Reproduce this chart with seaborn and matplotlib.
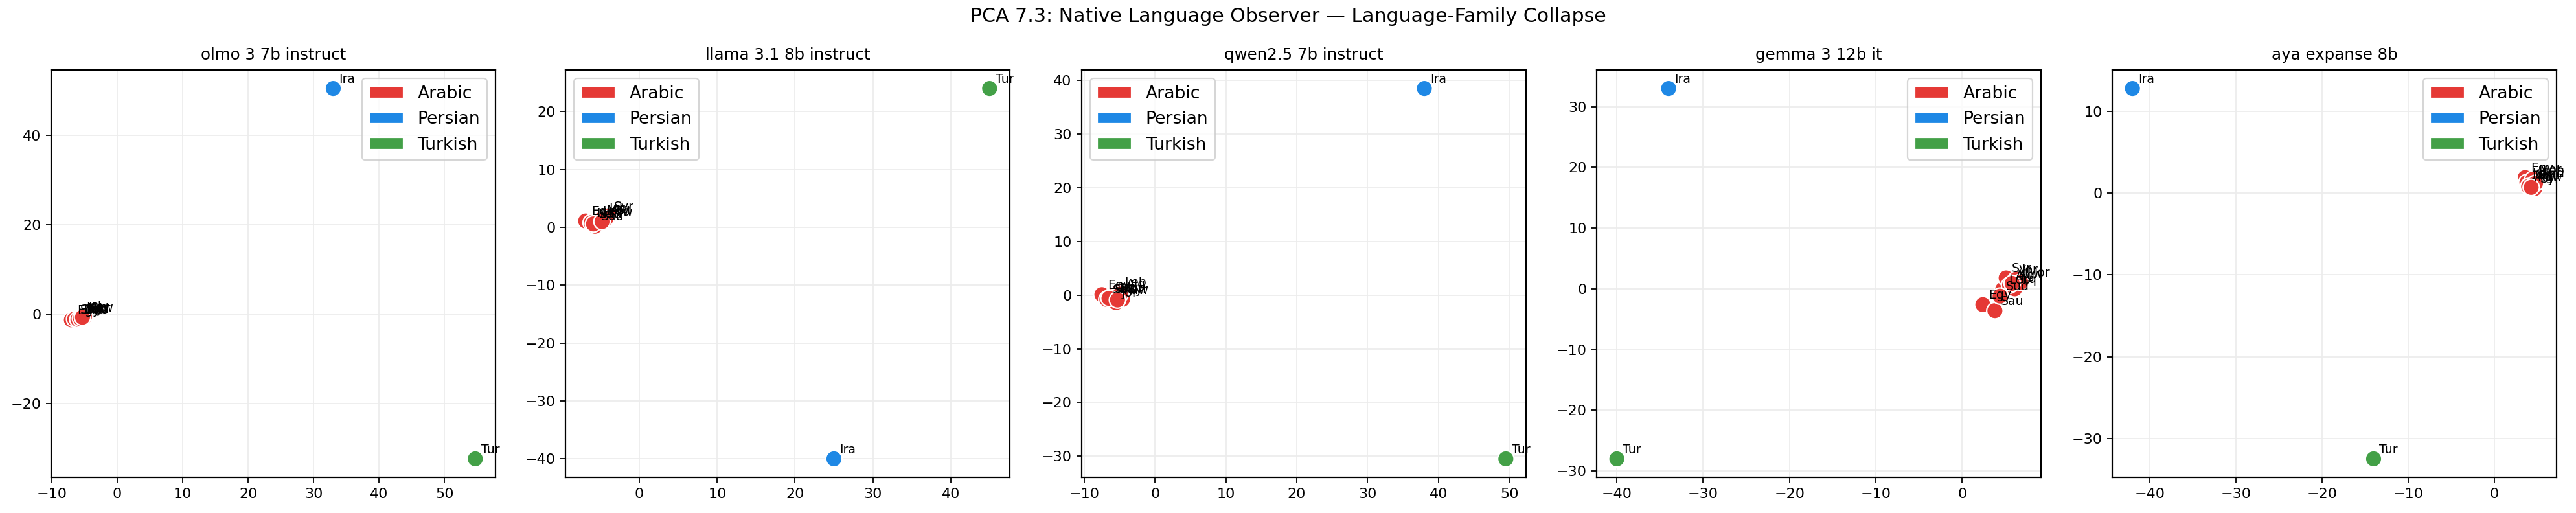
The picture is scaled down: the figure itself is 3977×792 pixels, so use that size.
import matplotlib
matplotlib.use("Agg")
import matplotlib.pyplot as plt
from matplotlib.patches import Patch
import seaborn as sns
import pandas as pd

# ---------------- data ----------------
models = ["olmo 3 7b instruct", "llama 3.1 8b instruct", "qwen2.5 7b instruct",
          "gemma 3 12b it", "aya expanse 8b"]
families = ["Arabic", "Persian", "Turkish"]
family_colors = ["#e53935", "#1e88e5", "#43a047"]

arabic_labels = ["Egy", "Sau", "Leb", "Syr", "Jor", "Irq", "Mor", "Alg", "Sud", "Kuw"]
persian_label = "Ira"
turkish_label = "Tur"

olmo_ar_x = [-7.0, -6.5, -5.8, -5.2, -5.5, -6.0, -5.4, -5.0, -5.6, -5.3]
olmo_ar_y = [-1.3, -1.1, -1.0, -0.9, -0.7, -1.2, -0.8, -0.6, -1.0, -0.7]
olmo_ira = (33.0, 50.5)
olmo_tur = (54.7, -32.4)

llama_ar_x = [-6.9, -5.7, -5.5, -4.0, -4.6, -6.2, -5.0, -4.3, -5.9, -4.8]
llama_ar_y = [1.1, 0.2, 1.1, 1.9, 1.6, 0.8, 1.3, 1.5, 0.6, 1.0]
llama_ira = (25.0, -40.0)
llama_tur = (45.0, 24.0)

qwen_ar_x = [-7.5, -6.8, -5.1, -4.6, -5.5, -6.2, -5.8, -4.9, -6.5, -5.3]
qwen_ar_y = [0.1, -0.8, 0.6, -0.8, -1.4, -0.3, -0.5, 0.2, -0.6, -0.9]
qwen_ira = (38.0, 38.5)
qwen_tur = (49.5, -30.5)

gemma_ar_x = [2.4, 3.8, 4.7, 5.1, 6.3, 6.1, 6.8, 5.5, 4.4, 5.8]
gemma_ar_y = [-2.6, -3.6, -0.1, 1.8, 1.6, 0.0, 1.1, 0.6, -1.2, 0.9]
gemma_ira = (-34.0, 33.0)
gemma_tur = (-40.0, -28.0)

aya_ar_x = [3.6, 4.4, 4.9, 4.7, 3.8, 4.2, 4.5, 4.0, 4.8, 4.3]
aya_ar_y = [1.9, 0.95, 1.5, 0.55, 1.3, 1.1, 1.7, 0.8, 1.2, 0.7]
aya_ira = (-42.0, 12.8)
aya_tur = (-14.0, -32.5)

panels = [
    (olmo_ar_x, olmo_ar_y, olmo_ira, olmo_tur),
    (llama_ar_x, llama_ar_y, llama_ira, llama_tur),
    (qwen_ar_x, qwen_ar_y, qwen_ira, qwen_tur),
    (gemma_ar_x, gemma_ar_y, gemma_ira, gemma_tur),
    (aya_ar_x, aya_ar_y, aya_ira, aya_tur),
]

# ---------------- figure ----------------
sns.set_style("white")
plt.rcParams["font.family"] = ["DejaVu Sans"]
plt.rcParams["text.color"] = "black"
plt.rcParams["axes.labelcolor"] = "black"
plt.rcParams["xtick.color"] = "black"
plt.rcParams["ytick.color"] = "black"

W, H, DPI = 3977, 792, 160
fig = plt.figure(figsize=(W / DPI, H / DPI), dpi=DPI)

lefts = [79, 873, 1670, 2465, 3261]
ax_w, ax_h, ax_bottom = 686, 629, 55

palette = dict(zip(families, family_colors))

for i, (name, (ax_x, ax_y, ira, tur)) in enumerate(zip(models, panels)):
    ax = fig.add_axes([lefts[i] / W, ax_bottom / H, ax_w / W, ax_h / H])
    df = pd.DataFrame({
        "x": list(ax_x) + [ira[0], tur[0]],
        "y": list(ax_y) + [ira[1], tur[1]],
        "label": arabic_labels + [persian_label, turkish_label],
        "family": ["Arabic"] * len(ax_x) + ["Persian", "Turkish"],
    })
    sns.scatterplot(data=df, x="x", y="y", hue="family", palette=palette,
                    s=130, edgecolor="white", linewidth=1.0, ax=ax,
                    legend=False, zorder=3)
    for _, r in df.iterrows():
        ax.annotate(r["label"], (r["x"], r["y"]), xytext=(4, 4),
                    textcoords="offset points", fontsize=8.5, color="black",
                    zorder=4)
    ax.grid(True, color="#ececec", linewidth=0.8)
    ax.set_axisbelow(True)
    for sp in ax.spines.values():
        sp.set_visible(True)
        sp.set_color("black")
        sp.set_linewidth(1.0)
    ax.tick_params(axis="both", which="both", direction="out", length=3.5,
                   width=0.8, color="black", labelcolor="black", labelsize=10,
                   left=True, bottom=True)
    ax.set_xlabel("")
    ax.set_ylabel("")
    ax.set_title(name, fontsize=11, pad=7, color="black")
    handles = [Patch(facecolor=c, label=f) for f, c in zip(families, family_colors)]
    ax.legend(handles=handles, loc="best", fontsize=12, framealpha=0.8)

fig.suptitle("PCA 7.3: Native Language Observer \u2014 Language-Family Collapse",
             fontsize=13.5, y=1 - 25 / H, va="center", color="black")

fig.savefig("out.png", dpi=DPI)
